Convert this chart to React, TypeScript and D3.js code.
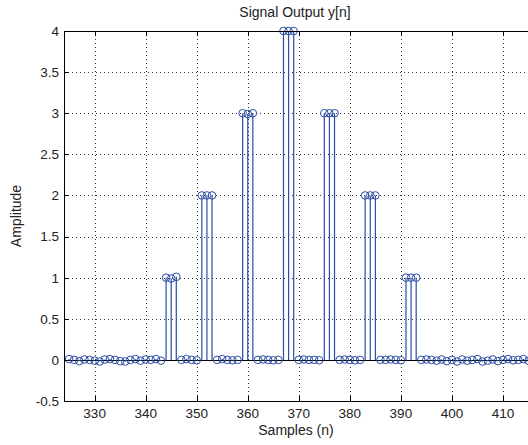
import React from "react";
import * as d3 from "d3";

const samples = [
  325, 326, 327, 328, 329, 330, 331, 332, 333, 334, 335, 336, 337, 338, 339, 340,
  341, 342, 343, 344, 345, 346, 347, 348, 349, 350, 351, 352, 353, 354, 355, 356,
  357, 358, 359, 360, 361, 362, 363, 364, 365, 366, 367, 368, 369, 370, 371, 372,
  373, 374, 375, 376, 377, 378, 379, 380, 381, 382, 383, 384, 385, 386, 387, 388,
  389, 390, 391, 392, 393, 394, 395, 396, 397, 398, 399, 400, 401, 402, 403, 404,
  405, 406, 407, 408, 409, 410, 411, 412, 413, 414, 415, 416, 417, 418, 419, 420,
];

const amplitudes = [
  0.01, 0.0, -0.015, 0.005, 0.0, -0.01, -0.02, 0.005, 0.01, 0.0, -0.015, -0.02, 0.0, 0.01, -0.01, 0.005,
  0.0, 0.01, -0.01, 1.0, 0.99, 1.01, 0.0, 0.01, 0.0, -0.005, 2.0, 2.0, 2.0, 0.0, 0.01, 0.0,
  -0.005, 0.0, 3.0, 2.99, 3.0, 0.0, 0.005, 0.0, -0.005, 0.0, 4.0, 4.0, 4.0, 0.0, 0.005, 0.0,
  0.0, -0.005, 3.0, 3.0, 3.0, 0.0, 0.005, 0.0, -0.005, 0.0, 2.0, 2.0, 2.0, 0.0, 0.0, 0.005,
  0.0, -0.005, 1.0, 1.0, 1.0, 0.0, 0.005, 0.0, -0.01, 0.005, -0.015, 0.0, -0.02, 0.005, -0.01, 0.0,
  0.01, -0.02, -0.01, 0.005, -0.015, 0.0, 0.01, -0.005, 0.0, 0.01, -0.01, 0.0, 0.005, 0.0, -0.01, 0.0,
];

const xTicks = [330, 340, 350, 360, 370, 380, 390, 400, 410];
const yTicks = [-0.5, 0, 0.5, 1, 1.5, 2, 2.5, 3, 3.5, 4];

const titleText = "Signal Output y[n]";
const xLabelText = "Samples (n)";
const yLabelText = "Amplitude";

const W = 528;
const H = 445;
const left = 64;
const top = 31;
const bottom = 401;
const rightFull = 554;

const BLUE = "#2a4ca6";
const FONT = "'Liberation Sans', Arial, Helvetica, sans-serif";

export default function App() {
  const x = d3.scaleLinear().domain([324, 420]).range([left, rightFull]);
  const y = d3.scaleLinear().domain([-0.5, 4]).range([bottom, top]);
  const tickLen = 5;

  return (
    <svg
      width={W}
      height={H}
      style={{ position: "absolute", left: 0, top: 0, display: "block", background: "#fff" }}
      fontFamily={FONT}
    >
      <rect x={0} y={0} width={W} height={H} fill="#fff" />
      {/* grid */}
      <g stroke="#333" strokeWidth={1} strokeDasharray="1,3">
        {xTicks.map((t) => (
          <line key={"gx" + t} x1={Math.round(x(t)) + 0.5} x2={Math.round(x(t)) + 0.5} y1={top} y2={bottom} />
        ))}
        {yTicks.map((t) => (
          <line key={"gy" + t} x1={left} x2={W} y1={Math.round(y(t)) + 0.5} y2={Math.round(y(t)) + 0.5} />
        ))}
      </g>
      {/* baseline */}
      <line x1={left} x2={W} y1={Math.round(y(0)) + 0.5} y2={Math.round(y(0)) + 0.5} stroke="#000" strokeWidth={1.2} />
      {/* stems */}
      <g stroke={BLUE} strokeWidth={1.2} fill="none">
        {samples.map((n, i) => (
          <line key={"s" + n} x1={x(n)} x2={x(n)} y1={y(0)} y2={y(amplitudes[i])} />
        ))}
      </g>
      {/* markers */}
      <g stroke={BLUE} strokeWidth={1} fill="none">
        {samples.map((n, i) => (
          <circle key={"c" + n} cx={x(n)} cy={y(amplitudes[i])} r={3.8} />
        ))}
      </g>
      {/* axes box */}
      <g stroke="#000" strokeWidth={1} fill="none">
        <line x1={left + 0.5} x2={left + 0.5} y1={top} y2={bottom} />
        <line x1={left} x2={W} y1={top + 0.5} y2={top + 0.5} />
        <line x1={left} x2={W} y1={bottom + 0.5} y2={bottom + 0.5} />
        {xTicks.map((t) => (
          <g key={"tx" + t}>
            <line x1={Math.round(x(t)) + 0.5} x2={Math.round(x(t)) + 0.5} y1={bottom} y2={bottom - tickLen} />
            <line x1={Math.round(x(t)) + 0.5} x2={Math.round(x(t)) + 0.5} y1={top} y2={top + tickLen} />
          </g>
        ))}
        {yTicks.map((t) => (
          <line key={"ty" + t} x1={left} x2={left + tickLen} y1={Math.round(y(t)) + 0.5} y2={Math.round(y(t)) + 0.5} />
        ))}
      </g>
      {/* tick labels */}
      <g fill="#222" fontSize={13.5}>
        {xTicks.map((t) => (
          <text key={"lx" + t} x={x(t)} y={418} textAnchor="middle">
            {t}
          </text>
        ))}
        {yTicks.map((t) => (
          <text key={"ly" + t} x={59} y={y(t)} dy="0.36em" textAnchor="end">
            {String(t)}
          </text>
        ))}
      </g>
      <text x={295} y={17} textAnchor="middle" fontSize={14} fill="#222">
        {titleText}
      </text>
      <text x={296} y={435} textAnchor="middle" fontSize={14} fill="#222">
        {xLabelText}
      </text>
      <text transform={`translate(21,216) rotate(-90)`} textAnchor="middle" fontSize={14} fill="#222">
        {yLabelText}
      </text>
    </svg>
  );
}
